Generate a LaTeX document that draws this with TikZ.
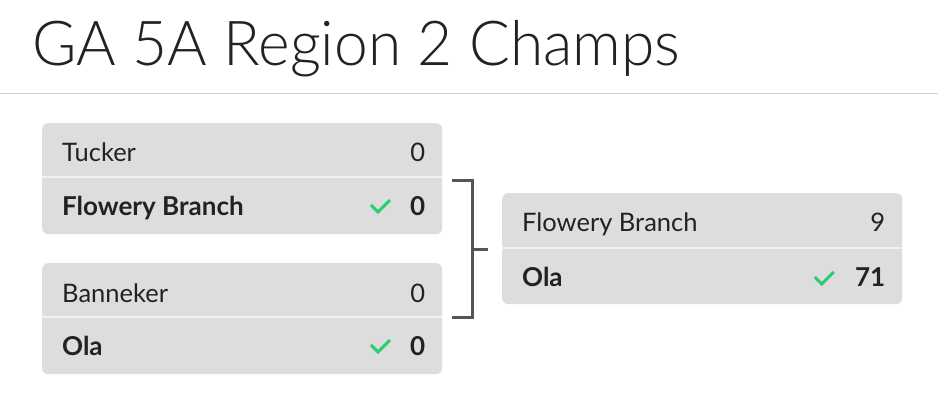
\documentclass[tikz,border=0pt]{standalone}
\usepackage{fontspec}
\setmainfont{Lato}
\newfontfamily\titlefont{Lato Light}
\usetikzlibrary{calc}
\definecolor{boxc}{HTML}{DDDDDD}
\definecolor{divc}{HTML}{F2F2F2}
\definecolor{rulec}{HTML}{D0D0D0}
\definecolor{txtc}{HTML}{222222}
\definecolor{brc}{HTML}{555555}
\definecolor{chk}{HTML}{2ECC71}
\tikzset{
  matchbox/.style={fill=boxc, draw=none, rounded corners=6pt, minimum width=400pt, minimum height=111pt, inner sep=0pt, anchor=north west},
  teamtxt/.style={inner sep=0pt, text=txtc, font=\fontsize{25.5}{28}\selectfont},
  wintxt/.style={inner sep=0pt, text=txtc, font=\bfseries\fontsize{26}{28}\selectfont},
  divline/.style={draw=divc, line width=2pt},
  bracketline/.style={draw=brc, line width=3pt},
  checkline/.style={draw=chk, line width=3pt}
}
\begin{document}
\begin{tikzpicture}[x=1pt,y=-1pt]
\useasboundingbox (0,0) rectangle (938,409);
\fill[white] (0,0) rectangle (938,409);
\node[anchor=base west, inner sep=0pt, xscale=0.975, text=txtc, font=\titlefont\fontsize{62}{70}\selectfont] (title) at (32,66) {GA 5A Region 2 Champs};
\coordinate (rl) at (0,94);
\coordinate (rr) at (938,94);
\draw[draw=rulec, line width=1pt] (rl) -- (rr);

% match 1
\node[matchbox] (m1) at (42,123) {};
\draw[divline] ($(m1.north west)+(0,54)$) -- ($(m1.north east)+(0,54)$);
\node[teamtxt, anchor=base west] (t1a) at ($(m1.north west)+(20,39)$) {Tucker};
\node[teamtxt, anchor=base east] (s1a) at ($(m1.north east)+(-17,39)$) {0};
\node[wintxt, anchor=base west] (t1b) at ($(m1.north west)+(20,92)$) {Flowery Branch};
\node[wintxt, anchor=base east] (s1b) at ($(m1.north east)+(-17,92)$) {0};
\draw[checkline] ($(s1b.base west)+(-39,-10)$) -- ++(7,7) -- ++(12,-12);

% match 2
\node[matchbox] (m2) at (42,263) {};
\draw[divline] ($(m2.north west)+(0,54)$) -- ($(m2.north east)+(0,54)$);
\node[teamtxt, anchor=base west] (t2a) at ($(m2.north west)+(20,39)$) {Banneker};
\node[teamtxt, anchor=base east] (s2a) at ($(m2.north east)+(-17,39)$) {0};
\node[wintxt, anchor=base west] (t2b) at ($(m2.north west)+(20,92)$) {Ola};
\node[wintxt, anchor=base east] (s2b) at ($(m2.north east)+(-17,92)$) {0};
\draw[checkline] ($(s2b.base west)+(-39,-10)$) -- ++(7,7) -- ++(12,-12);

% match 3
\node[matchbox] (m3) at (502,193) {};
\draw[divline] ($(m3.north west)+(0,55)$) -- ($(m3.north east)+(0,55)$);
\node[teamtxt, anchor=base west] (t3a) at ($(m3.north west)+(20,39)$) {Flowery Branch};
\node[teamtxt, anchor=base east] (s3a) at ($(m3.north east)+(-17,39)$) {9};
\node[wintxt, anchor=base west] (t3b) at ($(m3.north west)+(20,94)$) {Ola};
\node[wintxt, anchor=base east] (s3b) at ($(m3.north east)+(-17,94)$) {71};
\draw[checkline] ($(s3b.base west)+(-40,-10)$) -- ++(7,7) -- ++(12,-12);

% bracket
\coordinate (bt) at ($(m1.north east)+(10,58)$);
\coordinate (bb) at ($(m2.north east)+(10,54)$);
\coordinate (bm) at ($(bt)!0.5!(bb)+(20,0)$);
\draw[bracketline] (bt) -- ++(20,0) |- (bb);
\draw[bracketline] (bm) -- ($(m3.west |- bm)+(-14,0)$);
\end{tikzpicture}
\end{document}
